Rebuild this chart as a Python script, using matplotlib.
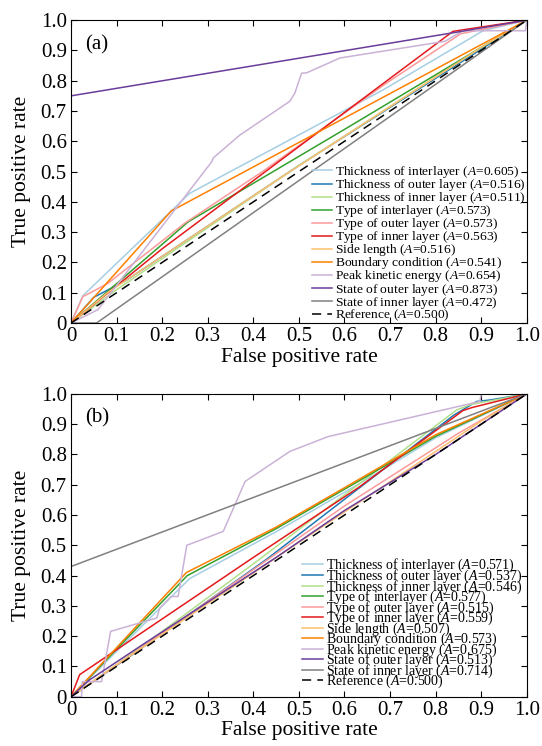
import numpy as np
import matplotlib
matplotlib.use("Agg")
import matplotlib.pyplot as plt
from matplotlib.ticker import FuncFormatter

plt.rcParams['font.family'] = ['Liberation Serif', 'DejaVu Serif']
plt.rcParams['mathtext.fontset'] = 'custom'
plt.rcParams['mathtext.rm'] = 'Liberation Serif'
plt.rcParams['mathtext.it'] = 'Liberation Serif:italic'

# Series names and colours (Paired palette)
names = ["Thickness of interlayer", "Thickness of outer layer", "Thickness of inner layer",
         "Type of interlayer", "Type of outer layer", "Type of inner layer",
         "Side length", "Boundary condition", "Peak kinetic energy",
         "State of outer layer", "State of inner layer"]
colors = ["#a6cee3", "#1f78b4", "#b2df8a", "#33a02c", "#fb9a99", "#e31a1c",
          "#fdbf6f", "#ff7f00", "#cab2d6", "#6a3d9a", "#808080"]

# ---- panel (a) ----
auc_a = [0.605, 0.516, 0.511, 0.573, 0.573, 0.563, 0.516, 0.541, 0.654, 0.873, 0.472]
fpr_a = [
    [0, 0.026, 0.26, 0.685, 0.904, 1],
    [0, 0.05, 0.12, 0.5, 1],
    [0, 0.1, 0.5, 0.9, 1],
    [0, 0.257, 0.612, 1],
    [0, 0.026, 0.08, 0.25, 0.42, 0.69, 0.855, 1],
    [0, 0.2, 0.838, 0.86, 1],
    [0, 0.08, 0.45, 0.9, 1],
    [0, 0.22, 1],
    [0, 0.059, 0.309, 0.312, 0.37, 0.48, 0.491, 0.506, 0.517, 0.59, 0.82, 0.86, 0.997, 1],
    [0, 0, 0.845, 1],
    [0, 0.056, 1],
]
tpr_a = [
    [0, 0.09, 0.428, 0.77, 0.965, 1],
    [0, 0.085, 0.14, 0.52, 1],
    [0, 0.11, 0.52, 0.91, 1],
    [0, 0.334, 0.65, 1],
    [0, 0.087, 0.13, 0.33, 0.5, 0.79, 0.955, 1],
    [0, 0.245, 0.963, 0.968, 1],
    [0, 0.1, 0.47, 0.91, 1],
    [0, 0.37, 1],
    [0, 0.044, 0.533, 0.545, 0.62, 0.732, 0.759, 0.825, 0.826, 0.875, 0.93, 0.965, 0.965, 1],
    [0, 0.75, 0.96, 1],
    [0, 0, 1],
]

# ---- panel (b) ----
auc_b = [0.571, 0.537, 0.546, 0.577, 0.515, 0.559, 0.507, 0.573, 0.675, 0.513, 0.714]
fpr_b = [
    [0, 0.26, 0.45, 0.64, 0.8, 1],
    [0, 0.15, 0.43, 0.84, 0.89, 0.92, 1],
    [0, 0.15, 0.41, 0.846, 0.875, 1],
    [0, 0.255, 0.45, 0.64, 0.8, 1],
    [0, 0.2, 0.6, 0.85, 1],
    [0, 0.019, 0.4, 0.63, 0.86, 0.88, 1],
    [0, 0.1, 0.5, 0.9, 1],
    [0, 0.253, 0.45, 0.64, 0.8, 1],
    [0, 0.023, 0.025, 0.067, 0.087, 0.188, 0.195, 0.22, 0.235, 0.254, 0.334, 0.382,
     0.48, 0.564, 0.897, 0.9, 1],
    [0, 0.04, 0.15, 0.45, 0.6, 0.8, 1],
    [0, 0, 1],
]
tpr_b = [
    [0, 0.39, 0.545, 0.71, 0.855, 1],
    [0, 0.155, 0.455, 0.93, 0.975, 0.98, 1],
    [0, 0.16, 0.45, 0.947, 0.964, 1],
    [0, 0.40, 0.555, 0.72, 0.86, 1],
    [0, 0.21, 0.63, 0.87, 1],
    [0, 0.073, 0.46, 0.69, 0.945, 0.955, 1],
    [0, 0.105, 0.51, 0.91, 1],
    [0, 0.41, 0.56, 0.725, 0.865, 1],
    [0, 0, 0.05, 0.05, 0.216, 0.26, 0.293, 0.331, 0.331, 0.5, 0.546, 0.711,
     0.81, 0.859, 0.975, 1, 1],
    [0, 0.055, 0.165, 0.46, 0.615, 0.8, 1],
    [0, 0.43, 1],
]

ticks = np.arange(0, 1.01, 0.1)
fmt = FuncFormatter(lambda v, p: "0" if abs(v) < 1e-9 else f"{v:.1f}")


def draw(ax, fprs, tprs, aucs, tag, legend_anchor, fsize, spacing):
    for i in range(len(names)):
        ax.plot(fprs[i], tprs[i], color=colors[i], lw=1.1,
                label=f"{names[i]} ($A$={aucs[i]:.3f})")
    ax.plot([0, 1], [0, 1], color="black", lw=1.1, ls=(0, (6, 4)),
            label="Reference ($A$=0.500)")
    ax.set_xlim(0, 1)
    ax.set_ylim(0, 1)
    ax.set_xticks(ticks)
    ax.set_yticks(ticks)
    ax.xaxis.set_major_formatter(fmt)
    ax.yaxis.set_major_formatter(fmt)
    ax.tick_params(direction="in", top=True, right=True, length=4, labelsize=15, pad=3)
    ax.set_xlabel("False positive rate", fontsize=15.5, labelpad=1)
    ax.set_ylabel("True positive rate", fontsize=15.5, labelpad=7)
    ax.text(0.03, 0.92, tag, transform=ax.transAxes, fontsize=15, va="center")
    ax.legend(loc="lower left", bbox_to_anchor=legend_anchor, frameon=False,
              fontsize=fsize, handlelength=1.5, handletextpad=0.2,
              labelspacing=spacing, borderpad=0, borderaxespad=0)


fig = plt.figure(figsize=(5.42, 7.46), dpi=100)
ax1 = fig.add_axes([0.131, 0.567, 0.841, 0.406])
ax2 = fig.add_axes([0.131, 0.066, 0.841, 0.406])
draw(ax1, fpr_a, tpr_a, auc_a, "(a)", (0.528, 0.0), 9.7, -0.22)
draw(ax2, fpr_b, tpr_b, auc_b, "(b)", (0.507, 0.021), 10.0, -0.49)

fig.savefig("out.png", dpi=100)
